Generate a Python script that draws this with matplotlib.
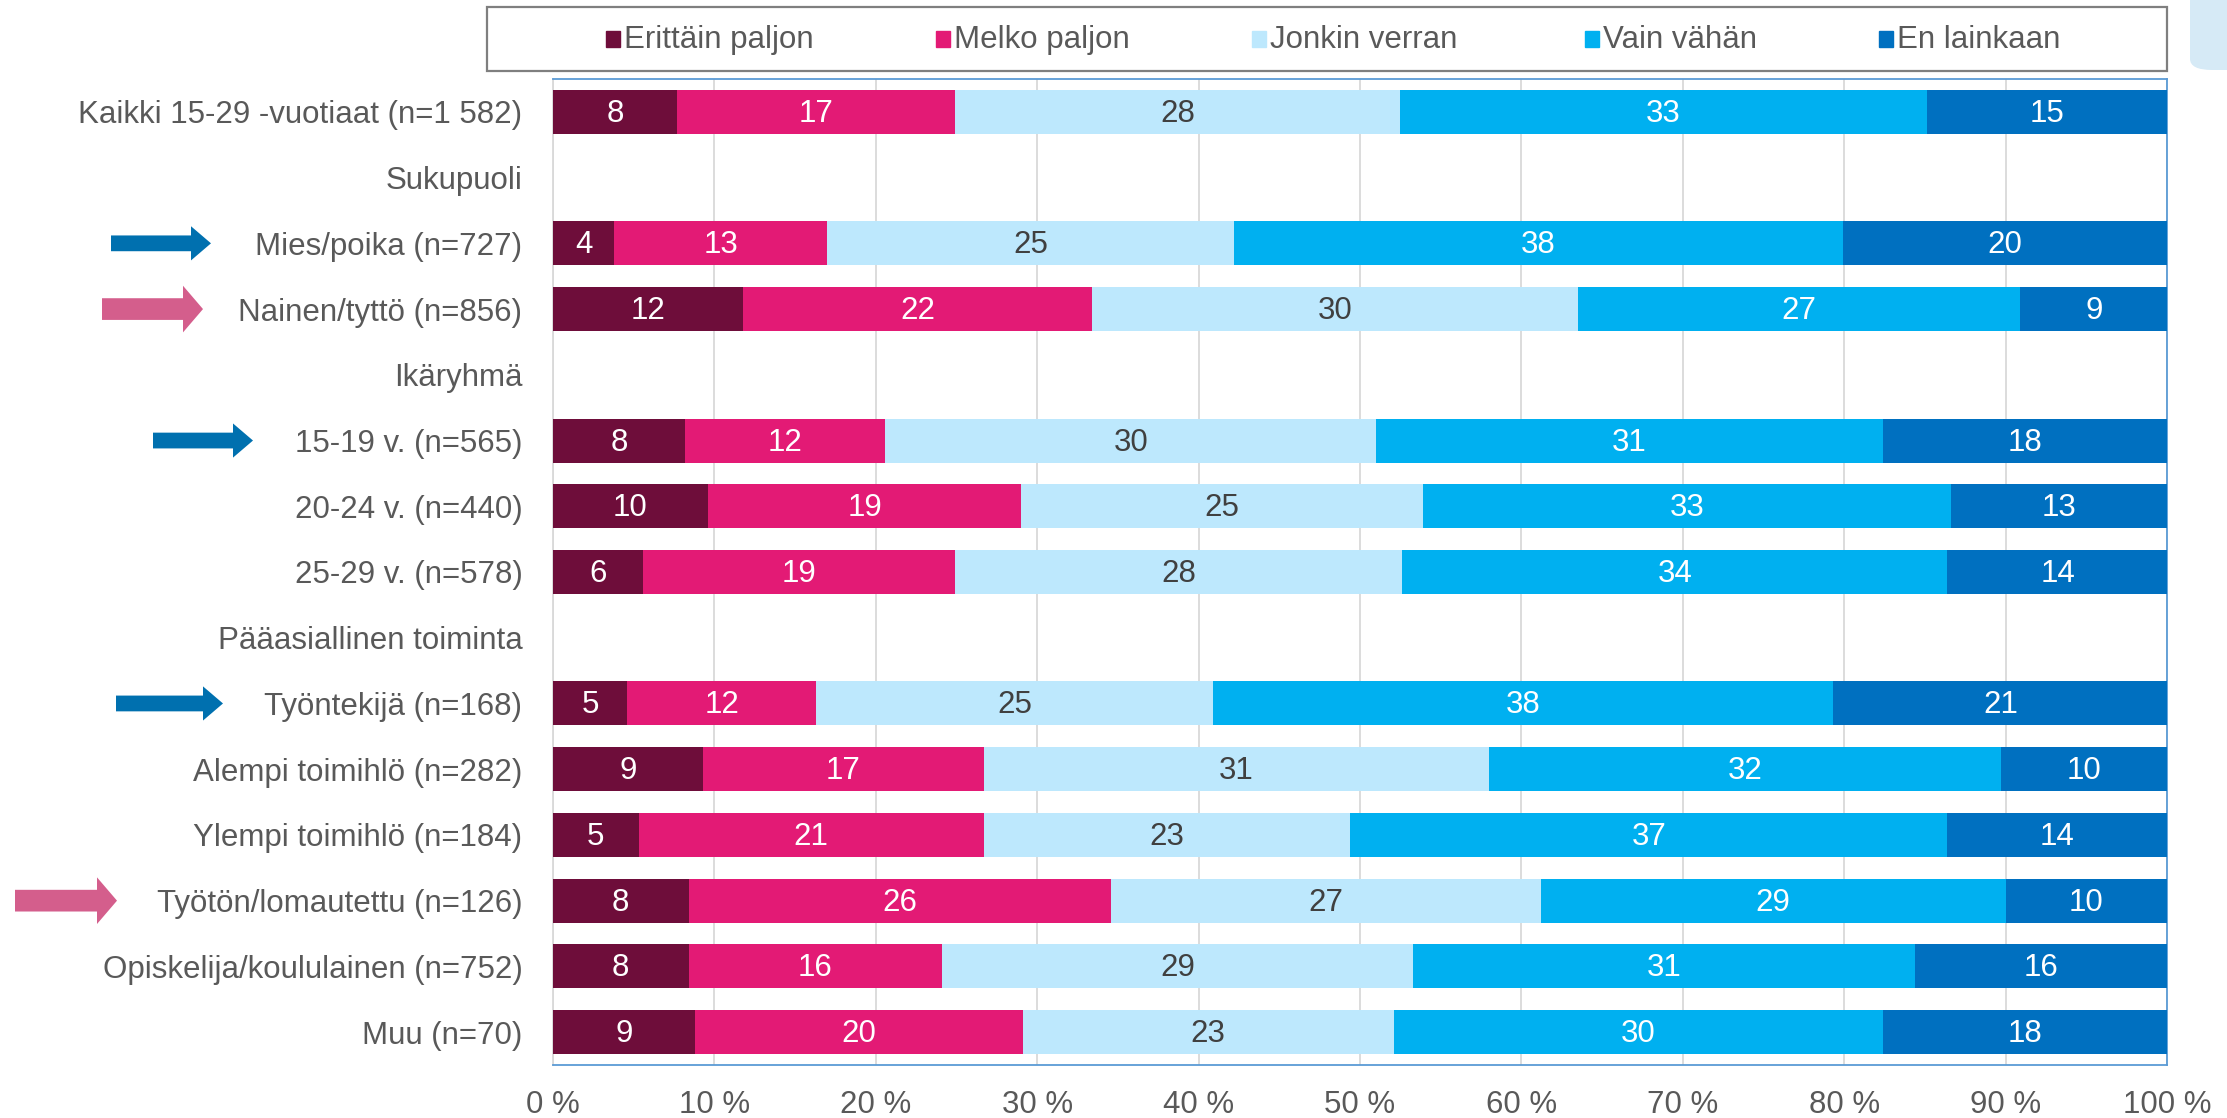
import numpy as np
import matplotlib
matplotlib.use("Agg")
import matplotlib.pyplot as plt
from matplotlib.patches import FancyArrow, Rectangle, FancyBboxPatch
from matplotlib.transforms import blended_transform_factory

plt.rcParams['font.family'] = ['Liberation Sans', 'DejaVu Sans']

# rows top to bottom; group headers have no bars
categories = ["Kaikki 15-29 -vuotiaat (n=1 582)", "Sukupuoli",
              "Mies/poika (n=727)", "Nainen/tyttö (n=856)", "Ikäryhmä",
              "15-19 v. (n=565)", "20-24 v. (n=440)", "25-29 v. (n=578)",
              "Pääasiallinen toiminta",
              "Työntekijä (n=168)", "Alempi toimihlö (n=282)",
              "Ylempi toimihlö (n=184)", "Työtön/lomautettu (n=126)",
              "Opiskelija/koululainen (n=752)", "Muu (n=70)"]
series = ["Erittäin paljon", "Melko paljon", "Jonkin verran", "Vain vähän", "En lainkaan"]

erittain = [7.7, None, 3.8, 11.8, None, 8.2, 9.6, 5.6, None, 4.6, 9.3, 5.3, 8.4, 8.4, 8.8]
melko    = [17.2, None, 13.2, 21.6, None, 12.4, 19.4, 19.3, None, 11.7, 17.4, 21.4, 26.2, 15.7, 20.3]
jonkin   = [27.6, None, 25.2, 30.1, None, 30.4, 24.9, 27.7, None, 24.6, 31.3, 22.7, 26.6, 29.2, 23.0]
vain     = [32.6, None, 37.7, 27.4, None, 31.4, 32.7, 33.8, None, 38.4, 31.7, 37.0, 28.8, 31.1, 30.3]
ei       = [14.9, None, 20.1, 9.2, None, 17.6, 13.4, 13.7, None, 20.8, 10.3, 13.6, 10.0, 15.6, 17.6]

colors = ["#6E0D3A", "#E31A75", "#BDE8FD", "#00B0F0", "#0070C0"]
label_colors = ["white", "white", "#404040", "white", "white"]

# arrows: (row, colour, x start px, x end px)
arrows = [(2, "#0070AF", 111, 211), (3, "#D45E8C", 102, 203),
          (5, "#0070AF", 153, 253), (9, "#0070AF", 116, 223),
          (12, "#D45E8C", 15, 117)]

FS = 22.5
W, H = 2227, 1118
fig = plt.figure(figsize=(W / 100, H / 100), dpi=100)
ax = fig.add_axes([553 / W, 1 - 1065 / H, (2167 - 553) / W, (1065 - 79) / H])

data = [erittain, melko, jonkin, vain, ei]
y = np.arange(len(categories))
left = np.zeros(len(categories))
for s, vals, c, lc in zip(series, data, colors, label_colors):
    v = np.array([0 if x is None else x for x in vals], dtype=float)
    ax.barh(y, v, left=left, height=0.67, color=c, label=s, zorder=3)
    for yi, (vi, li) in enumerate(zip(v, left)):
        if vi > 0:
            ax.text(li + vi / 2, yi + 0.03, f"{vi:.0f}", ha="center", va="center",
                    color=lc, fontsize=FS, zorder=4)
    left += v

ax.set_xlim(0, 100)
ax.set_ylim(len(categories) - 0.5, -0.5)
ax.set_xticks(np.arange(0, 101, 10))
ax.set_xticklabels([f"{t} %" for t in range(0, 101, 10)])
ax.set_yticks(y)
ax.set_yticklabels(categories)
ax.tick_params(axis="both", length=0, labelsize=FS, labelcolor="#595959")
ax.tick_params(axis="y", pad=22)
ax.tick_params(axis="x", pad=18)
ax.grid(axis="x", color="#D9D9D9", lw=1.3, zorder=0)
for sp in ["top", "right", "bottom"]:
    ax.spines[sp].set_color("#5B9BD5")
    ax.spines[sp].set_linewidth(1.3)
ax.spines["left"].set_color("#D9D9D9")
ax.spines["left"].set_linewidth(1.3)

# legend box drawn by hand
fig.patches.append(Rectangle((487 / W, 1 - 71 / H), (2167 - 487) / W, 64 / H,
                             transform=fig.transFigure, fill=False,
                             edgecolor="#7F7F7F", lw=1.6))
leg_x = [606, 936, 1252, 1585, 1879]
for s, c, xp in zip(series, colors, leg_x):
    fig.patches.append(Rectangle((xp / W, 1 - 47 / H), 14 / W, 16 / H,
                                 transform=fig.transFigure, color=c))
    fig.text((xp + 18) / W, 1 - 40 / H, s, ha="left", va="center",
             fontsize=FS, color="#595959")

# decorative corner shape
fig.patches.append(FancyBboxPatch((2190 / W, 1 - 70 / H), 60 / W, 80 / H,
                                  boxstyle="round,pad=0,rounding_size=0.01",
                                  transform=fig.transFigure, color="#D6EAF6",
                                  lw=0))

tr = blended_transform_factory(fig.transFigure, ax.transData)
for row, c, x0, x1 in arrows:
    big = c == "#D45E8C"
    fig.patches.append(FancyArrow(x0 / W, row, (x1 - x0) / W, 0,
                                  width=0.33 if big else 0.24,
                                  head_width=0.71 if big else 0.52,
                                  head_length=20 / W, length_includes_head=True,
                                  transform=tr, color=c, lw=0))

fig.savefig("out.png", dpi=100)
